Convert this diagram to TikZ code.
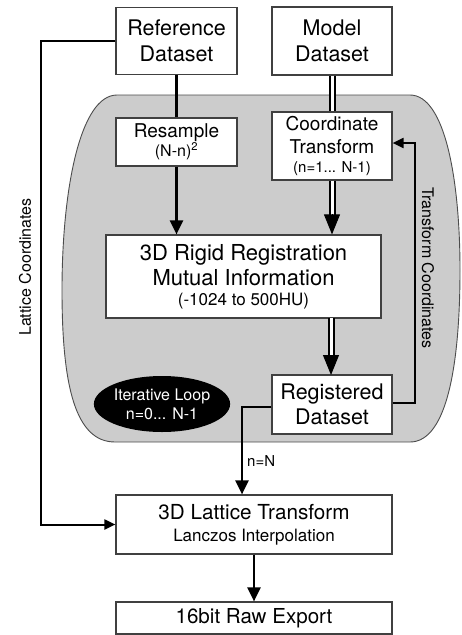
\documentclass[tikz,border=0pt]{standalone}
\usepackage{fontspec}
\setmainfont{TeX Gyre Heros}
\usetikzlibrary{arrows.meta,shapes.geometric,calc}
\newcommand{\fsz}[2]{\fontsize{#1}{#2}\selectfont}
\begin{document}
\begin{tikzpicture}[x=1pt,y=-1pt,
  box/.style={draw=black!75, line width=1.2pt, fill=white, inner sep=0pt, align=center},
  conn/.style={draw=black, line width=2.4pt},
  arr/.style={conn, -{Triangle[length=14pt,width=13pt]}},
  thinarr/.style={draw=black, line width=2pt, -{Triangle[length=11pt,width=10pt]}},
  dbl/.style={draw=black, line width=2pt, double=white, double distance=3pt},
  dblhead/.style={draw=black, line width=1pt, -{Triangle[length=20pt,width=16pt]}},
  lbl/.style={inner sep=0pt}
]
\useasboundingbox (0,0) rectangle (461,635);

% grey loop region
\path[fill=black!20, draw=black!70, line width=0.9pt]
  (117,95) .. controls (80,95) and (62,190) .. (62,290)
  .. controls (62,385) and (75,442) .. (115,442)
  -- (410,442)
  .. controls (448,442) and (460,360) .. (460,270)
  .. controls (460,180) and (445,95) .. (410,95) -- cycle;

% nodes
\node[box, minimum width=121pt, minimum height=67pt, font=\fsz{21.5}{26}] (ref) at (176.5,41)
  {Reference\\Dataset};
\node[box, minimum width=120pt, minimum height=68pt, font=\fsz{21.5}{26}] (model) at (332,41)
  {Model\\Dataset};
\node[box, minimum width=121pt, minimum height=48pt, font=\fsz{19}{21}] (resample) at (176.5,142)
  {Resample\\[-2pt]\fsz{16}{18}(N-n)\textsuperscript{2}};
\node[box, minimum width=120pt, minimum height=68pt, font=\fsz{19}{23}] (coord) at (332,146)
  {Coordinate\\Transform\\[-4pt]\fsz{15}{17}(n=1... N-1)};
\node[box, minimum width=275pt, minimum height=83pt, font=\fsz{22}{25}] (reg) at (243.5,276.5)
  {3D Rigid Registration\\Mutual Information\\[-5pt]\fsz{17}{19}(-1024 to 500HU)};
\node[box, minimum width=120pt, minimum height=59pt, font=\fsz{21.5}{25}] (regd) at (332,404.5)
  {Registered\\Dataset};
\node[ellipse, fill=black, text=white, minimum width=130pt, minimum height=56pt, inner sep=0pt, align=center, font=\fsz{16}{19}] (loop) at (162,404)
  {Iterative Loop\\n=0... N-1};
\node[box, minimum width=276pt, minimum height=59pt, font=\fsz{20.7}{22}] (lat) at (254,524.5)
  {3D Lattice Transform\\\fsz{17}{19}Lanczos Interpolation};
\node[box, minimum width=276pt, minimum height=32pt, font=\fsz{20.6}{23}] (exp) at (254,618)
  {16bit Raw Export};

% connectors
\draw[conn] (ref.south) -- (resample.north);
\draw[arr] (resample.south) -- (resample.south |- reg.north);

\draw[dbl] (model.south) -- (coord.north);
\coordinate (c1) at (coord.south |- reg.north);
\draw[dbl, shorten >=18pt] (coord.south) -- (c1);
\draw[dblhead] ($(c1)+(0,-20)$) -- (c1);

\coordinate (r1) at (331,318);
\coordinate (r2) at (331,375);
\draw[dbl, shorten >=18pt] (r1) -- (r2);
\draw[dblhead] ($(r2)+(0,-20)$) -- (r2);

% feedback loop
\coordinate (fb1) at (415,403);
\coordinate (fb2) at (415,143);
\draw[thinarr] (regd.east |- fb1) -- (fb1) -- (fb2) -- (coord.east |- fb2);
\node[lbl, rotate=-90, font=\fsz{16}{18}] (tc) at (428,268) {Transform Coordinates};

% n=N exit
\coordinate (nn1) at (242,407);
\draw[arr] (regd.west |- nn1) -- (nn1) -- (nn1 |- lat.north);
\node[lbl, anchor=west, font=\fsz{15}{17}] (nN) at (247,461) {n=N};

% lattice coordinates
\coordinate (lc1) at (41,41);
\draw[thinarr] (ref.west) -- (lc1) |- (lat.west);
\node[lbl, rotate=90, font=\fsz{16}{18}] (lc) at (25,267) {Lattice Coordinates};

% export
\draw[arr] (lat.south) -- (exp.north);
\end{tikzpicture}
\end{document}
